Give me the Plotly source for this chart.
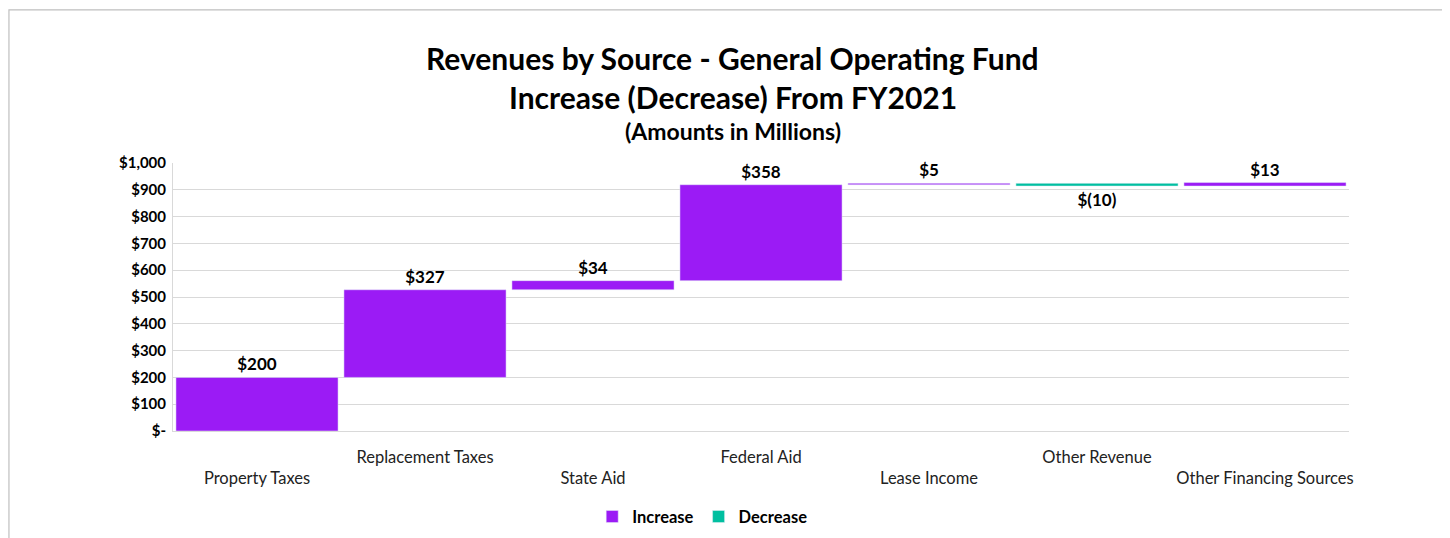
import numpy as np
import plotly.graph_objects as go

# -----------------------------
# DATA
# -----------------------------
categories = ["Property Taxes", "Replacement Taxes", "State Aid", "Federal Aid",
              "Lease Income", "Other Revenue", "Other Financing Sources"]
changes = [200, 327, 34, 358, 5, -10, 13]
y_tick_vals = [0, 100, 200, 300, 400, 500, 600, 700, 800, 900, 1000]
y_tick_text = ["$-", "$100", "$200", "$300", "$400", "$500", "$600",
               "$700", "$800", "$900", "$1,000"]

PURPLE = "#9B1BF5"
TEAL = "#00BFA0"
FONT = "Lato, 'Open Sans', sans-serif"

# running totals -> base of each floating bar
ends = np.cumsum(changes)
starts = ends - np.array(changes)


def money(v):
    return f"${v:,}" if v >= 0 else f"$({-v:,})"


inc_idx = [i for i, v in enumerate(changes) if v >= 0]
dec_idx = [i for i, v in enumerate(changes) if v < 0]

# staggered category labels (every other one pushed down a line)
tick_text = [("<br>" + c) if i % 2 == 0 else c for i, c in enumerate(categories)]

label_font = dict(family=FONT, size=17, color="#000000", weight="bold")

fig = go.Figure()
fig.add_trace(go.Bar(
    name="Increase",
    x=[categories[i] for i in inc_idx],
    y=[changes[i] for i in inc_idx],
    base=[starts[i] for i in inc_idx],
    marker_color=PURPLE,
    text=[money(changes[i]) for i in inc_idx],
    textposition="outside",
    cliponaxis=False,
    textfont=label_font,
))
fig.add_trace(go.Bar(
    name="Decrease",
    x=[categories[i] for i in dec_idx],
    y=[changes[i] for i in dec_idx],
    base=[starts[i] for i in dec_idx],
    marker_color=TEAL,
    text=[money(changes[i]) for i in dec_idx],
    textposition="outside",
    cliponaxis=False,
    textfont=label_font,
))

# -----------------------------
# TITLE (three centred lines)
# -----------------------------
title_lines = [
    ("Revenues by Source - General Operating Fund", 30, 1.392),
    ("Increase (Decrease) From FY2021", 30, 1.246),
    ("(Amounts in Millions)", 23, 1.119),
]
for txt, size, ypos in title_lines:
    fig.add_annotation(
        text=f"<b>{txt}</b>", xref="paper", yref="paper",
        x=0.476, y=ypos, xanchor="center", yanchor="middle",
        showarrow=False, font=dict(family=FONT, size=size, color="#000000"),
    )

fig.update_layout(
    width=1442,
    height=530,
    barmode="overlay",
    bargap=0.035,
    paper_bgcolor="white",
    plot_bgcolor="white",
    font=dict(family=FONT, color="#000000"),
    margin=dict(l=165, r=101, t=155, b=107, autoexpand=False),
    legend=dict(
        orientation="h", x=0.45, xanchor="center", y=-0.32, yanchor="middle",
        font=dict(family=FONT, size=16.5, color="#000000", weight="bold"),
        traceorder="normal",
    ),
    shapes=[dict(
        type="rect", xref="paper", yref="paper",
        x0=-0.1395, x1=1.0808, y0=-0.5, y1=1.571,
        line=dict(color="#BFBFBF", width=1.2), fillcolor="rgba(0,0,0,0)",
    )],
)

fig.update_xaxes(
    categoryorder="array", categoryarray=categories,
    tickvals=categories, ticktext=tick_text,
    tickfont=dict(family=FONT, size=16.5, color="#222222"),
    showgrid=False, showline=True, linecolor="#D9D9D9", ticks="",
    ticklabelstandoff=11,
)
fig.update_yaxes(
    range=[0, 1000], tickvals=y_tick_vals, ticktext=y_tick_text,
    tickfont=dict(family=FONT, size=15, color="#000000", weight="bold"),
    showgrid=True, gridcolor="#D9D9D9", gridwidth=1, zeroline=False,
    showline=True, linecolor="#D9D9D9", ticks="", ticklabelstandoff=3,
)

fig.write_html("out.html")
